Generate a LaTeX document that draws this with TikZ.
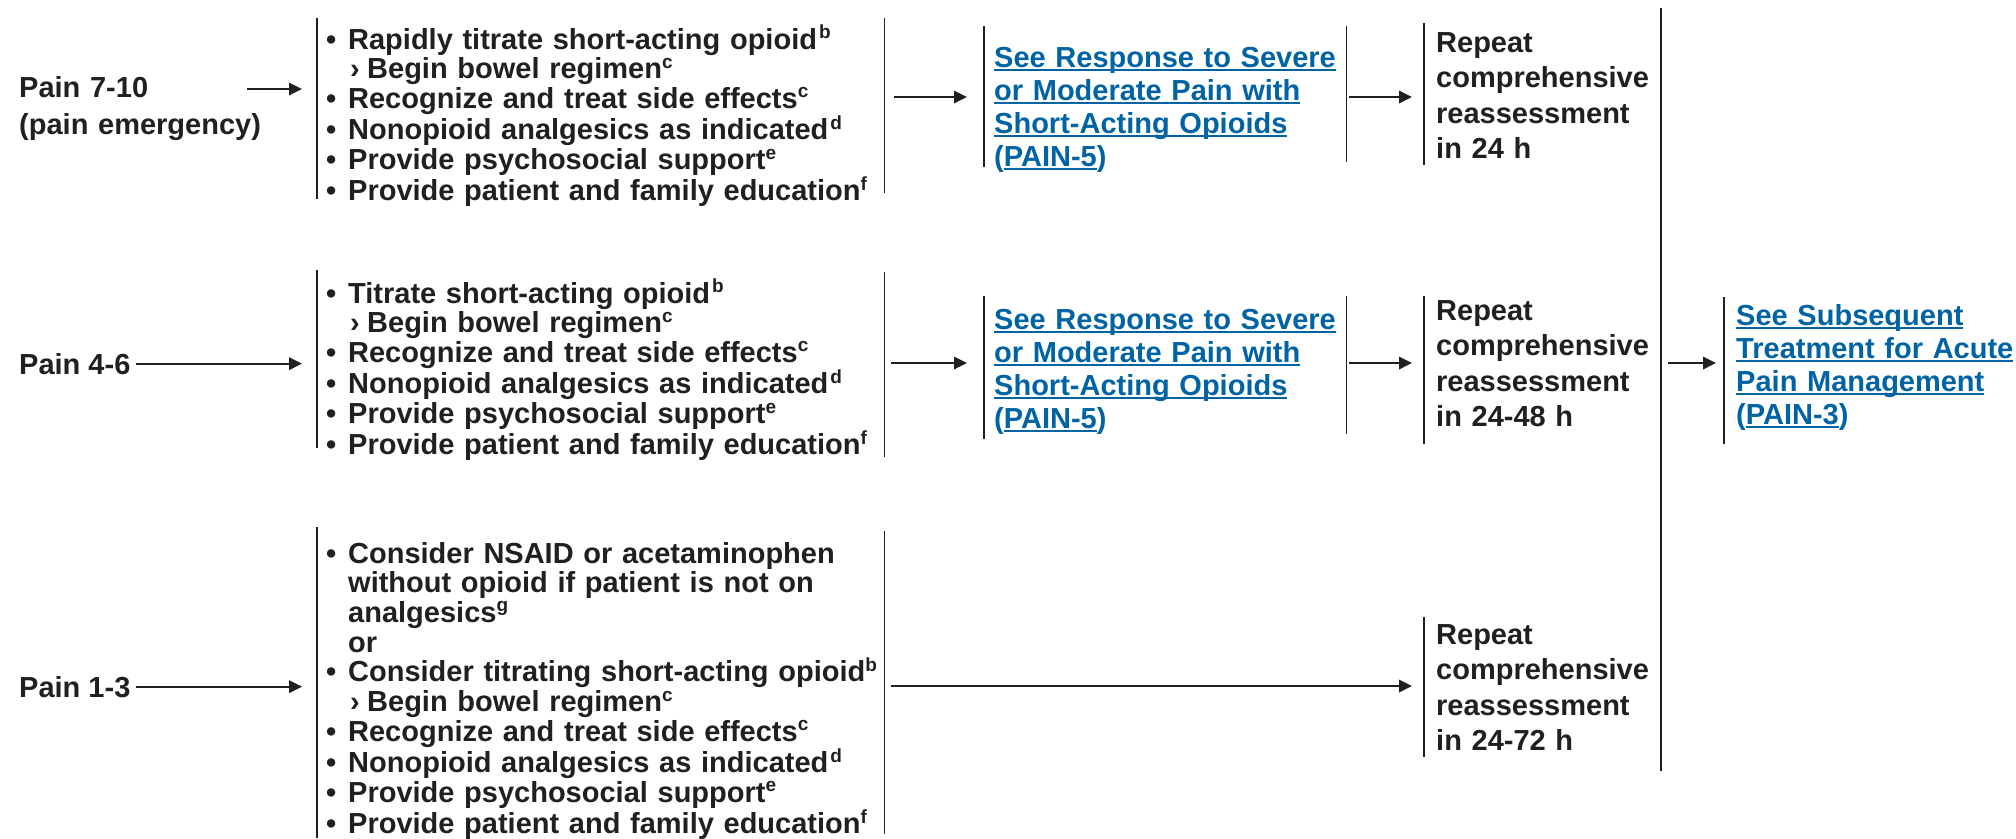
\documentclass[tikz,border=0pt]{standalone}
\usepackage{fontspec}
\setmainfont{Liberation Sans}
\usetikzlibrary{arrows.meta}
\definecolor{ink}{HTML}{231F20}
\definecolor{linkblue}{RGB}{0,99,163}
% superscript footnote letters
\newcommand\sups[1]{\raisebox{10.5pt}{\fontsize{19}{19}\selectfont #1}}
% underlined cross-reference text
\newcommand\lk[1]{\leavevmode\setbox0\hbox{#1}\rlap{\rule[-4.4pt]{\wd0}{2.3pt}}\box0}
% list markers
\newcommand\bul{\leavevmode\makebox[22pt][l]{•}}
\newcommand\subbul{\leavevmode\hspace*{24pt}\makebox[17pt][l]{›}}
\newcommand\cont{\leavevmode\hspace*{22pt}}

\tikzset{
  every node/.style={inner sep=0pt, text=ink},
  bodytext/.style={anchor=base west, align=left, text width=300pt,
    font={\fontsize{29}{35.5}\selectfont\bfseries}},
  painlabel/.style={anchor=base west, font={\fontsize{29}{37}\selectfont\bfseries}},
  bulletlist/.style={anchor=base west, align=left, text width=560pt,
    font={\fontsize{29}{29.7}\selectfont\bfseries}},
  linktext/.style={anchor=base west, align=left, text width=400pt, text=linkblue,
    font={\fontsize{29}{33}\selectfont\bfseries}},
  frame/.style={anchor=north west, draw=none, inner sep=0pt},
  barline/.style={line width=1.6pt, draw=ink},
  arr/.style={line width=1.8pt, draw=ink, -{Triangle[length=13pt,width=12.5pt]}},
}

\begin{document}
\begin{tikzpicture}[x=1pt, y=-1pt]
\useasboundingbox (0,0) rectangle (2016,838);

% ---------- pain 7-10 ----------
\node[bodytext, font={\fontsize{29}{37}\selectfont\bfseries}] (p1) at (19,97) {Pain 7-10\\(pain emergency)};
\coordinate (s1) at (247,89);
\node[frame, minimum width=567pt, minimum height=181pt] (f1) at (317,18) {};
\node[bulletlist] (b1) at (326,49) {\bul Rapidly titrate short-acting opioid\kern2pt\sups{b}\\
  \subbul Begin bowel regimen\sups{c}\\
  \bul Recognize and treat side effects\sups{c}\\
  \bul Nonopioid analgesics as indicated\kern2pt\sups{d}\\
  \bul Provide psychosocial support\sups{e}\\
  \bul Provide patient and family education\sups{f}};
\node[frame, minimum width=362pt, minimum height=141pt] (g1) at (984,26) {};
\node[linktext] (l1) at (994,67) {\lk{See Response to Severe}\\
  \lk{or Moderate Pain with}\\ \lk{Short-Acting Opioids}\\ (\lk{PAIN-5})};
\node[frame, minimum width=237pt, minimum height=142pt] (h1) at (1424,23) {};
\node[bodytext] (r1) at (1436,52) {Repeat\\comprehensive\\reassessment\\in 24 h};

\draw[barline] (f1.north west) -- (f1.south west);
\draw[barline] (f1.north east) -- ([yshift=6pt]f1.south east);
\draw[barline] (g1.north west) -- (g1.south west);
\draw[barline] (g1.north east) -- ([yshift=5pt]g1.south east);
\draw[barline] (h1.north west) -- (h1.south west);

\draw[arr, shorten >=15pt] (s1) -- (s1 -| f1.west);
\coordinate (s2) at (894,97);
\draw[arr, shorten >=17pt] (s2) -- (s2 -| g1.west);
\coordinate (s3) at (1349,97);
\draw[arr, shorten >=12pt] (s3) -- (s3 -| h1.west);

% ---------- pain 4-6 ----------
\node[painlabel] (p2) at (19,374) {Pain 4-6};
\node[frame, minimum width=567pt, minimum height=178pt] (f2) at (317,270) {};
\node[bulletlist] (b2) at (326,303) {\bul Titrate short-acting opioid\kern2pt\sups{b}\\
  \subbul Begin bowel regimen\sups{c}\\
  \bul Recognize and treat side effects\sups{c}\\
  \bul Nonopioid analgesics as indicated\kern2pt\sups{d}\\
  \bul Provide psychosocial support\sups{e}\\
  \bul Provide patient and family education\sups{f}};
\node[frame, minimum width=362pt, minimum height=143pt] (g2) at (984,296) {};
\node[linktext] (l2) at (994,329) {\lk{See Response to Severe}\\
  \lk{or Moderate Pain with}\\ \lk{Short-Acting Opioids}\\ (\lk{PAIN-5})};
\node[frame, minimum width=237pt, minimum height=148pt] (h2) at (1424,296) {};
\node[bodytext] (r2) at (1436,320) {Repeat\\comprehensive\\reassessment\\in 24-48 h};
\node[frame, minimum width=280pt, minimum height=147pt] (k2) at (1724,297) {};
\node[linktext] (m2) at (1736,325) {\lk{See Subsequent}\\
  \lk{Treatment for Acute}\\ \lk{Pain Management}\\ (\lk{PAIN-3})};

\draw[barline] (f2.north west) -- (f2.south west);
\draw[barline] ([yshift=-2pt]f2.north east) -- ([yshift=-9pt]f2.south east);
\draw[barline] (g2.north west) -- (g2.south west);
\draw[barline] (g2.north east) -- ([yshift=5pt]g2.south east);
\draw[barline] (h2.north west) -- (h2.south west);
\draw[barline] (k2.north west) -- (k2.south west);

\draw[arr, shorten <=5pt, shorten >=15pt] (p2.east) -- (p2.east -| f2.west);
\coordinate (s5) at (891,363);
\draw[arr, shorten >=17pt] (s5) -- (s5 -| g2.west);
\coordinate (s6) at (1349,363);
\draw[arr, shorten >=12pt] (s6) -- (s6 -| h2.west);

% ---------- merge line and subsequent treatment ----------
\coordinate (vt) at (1661,8);
\coordinate (vb) at (1661,771);
\draw[barline] (vt) -- (vb);
\coordinate (s7) at (1668,363);
\draw[arr, shorten >=8pt] (s7) -- (s7 -| k2.west);

% ---------- pain 1-3 ----------
\node[painlabel] (p3) at (19,697) {Pain 1-3};
\node[frame, minimum width=567pt, minimum height=311pt] (f3) at (317,527) {};
\node[bulletlist] (b3) at (326,563) {\bul Consider NSAID or acetaminophen\\
  \cont without opioid if patient is not on\\
  \cont analgesics\sups{g}\\
  \cont or\\
  \bul Consider titrating short-acting opioid\sups{b}\\
  \subbul Begin bowel regimen\sups{c}\\
  \bul Recognize and treat side effects\sups{c}\\
  \bul Nonopioid analgesics as indicated\kern2pt\sups{d}\\
  \bul Provide psychosocial support\sups{e}\\
  \bul Provide patient and family education\sups{f}};
\node[frame, minimum width=237pt, minimum height=140pt] (h3) at (1424,617) {};
\node[bodytext] (r3) at (1436,644) {Repeat\\comprehensive\\reassessment\\in 24-72 h};

\draw[barline] (f3.north west) -- (f3.south west);
\draw[barline] ([yshift=-4pt]f3.north east) -- ([yshift=4pt]f3.south east);
\draw[barline] (h3.north west) -- (h3.south west);

\draw[arr, shorten <=5pt, shorten >=15pt] (p3.east) -- (p3.east -| f3.west);
\coordinate (s9) at (891,686);
\draw[arr, shorten >=12pt] (s9) -- (s9 -| h3.west);
\end{tikzpicture}
\end{document}
